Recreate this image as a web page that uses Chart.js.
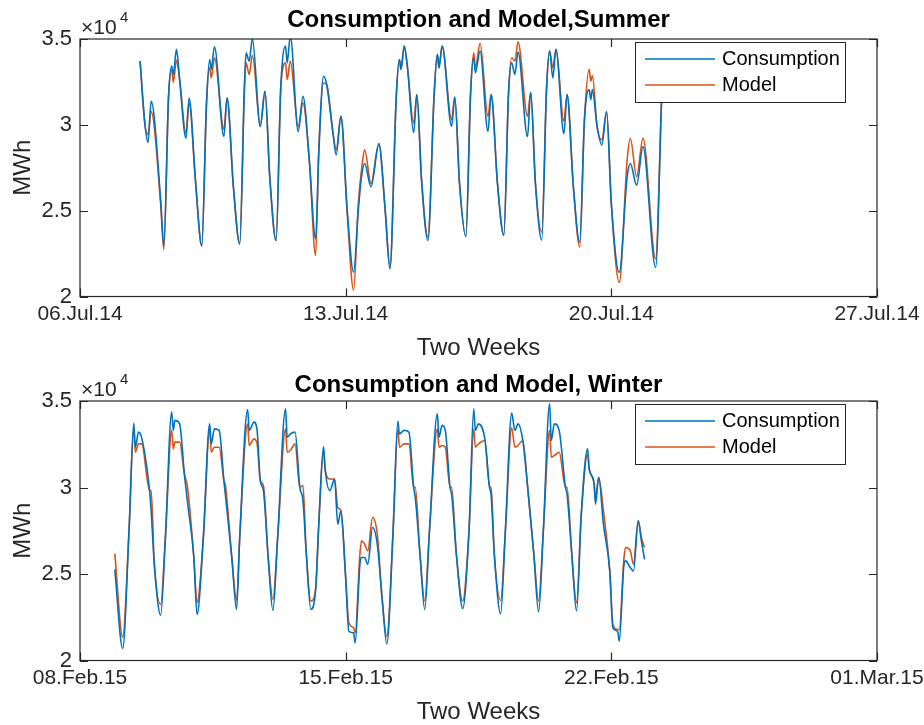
<!DOCTYPE html>
<html>
<head>
<meta charset="utf-8">
<title>Consumption and Model</title>
<script src="https://cdn.jsdelivr.net/npm/chart.js@4.4.1/dist/chart.umd.min.js"></script>
<style>
  html, body { margin: 0; padding: 0; background: #fff; }
  canvas { display: block; }
</style>
</head>
<body>
<canvas id="summerChart" width="924" height="362"></canvas>
<canvas id="winterChart" width="924" height="363"></canvas>
<script>
// hours counted from the first day on each x axis
const summerHours = [38, 41, 43, 45, 51, 53, 56, 58, 59, 61, 63, 67, 69, 73, 77, 80, 82, 83, 85, 91, 93, 97,
  101, 104, 105, 107, 109, 114, 117, 120, 124, 127, 130, 131, 133, 138, 141, 145, 149, 151, 154, 156, 160,
  162, 165, 169, 173, 176, 178, 180, 184, 189, 193, 196, 200, 202, 203, 205, 207, 211, 213, 216, 220, 224,
  226, 227, 229, 235, 237, 240, 244, 247, 249, 250, 253, 258, 260, 264, 268, 271, 273, 275, 277, 283, 285,
  288, 292, 295, 297, 299, 301, 306, 308, 312, 316, 319, 322, 323, 324, 327, 330, 333, 336, 341, 346, 348,
  352, 356, 364, 368, 369];
const summerConsumption = [33710, 30080, 28970, 31370, 25630, 22970, 31660, 33420, 32930, 34400, 32640, 29220,
  31560, 26780, 22970, 31270, 33810, 33230, 34550, 29320, 31560, 26390, 23060, 32250, 34200, 33710, 35020,
  29900, 31950, 26970, 23260, 32250, 34590, 33610, 35180, 29610, 31660, 27950, 23360, 28340, 32830, 32350,
  29510, 28250, 30490, 25020, 21410, 25040, 26970, 27750, 26390, 28890, 25020, 21600, 31660, 33810, 33230,
  34590, 33420, 29550, 31760, 26780, 23260, 31860, 34110, 33320, 34590, 29900, 31620, 26580, 23500, 31860,
  33910, 33030, 34300, 29610, 31760, 26580, 23560, 31860, 33610, 32930, 34240, 29320, 31900, 26580, 23300,
  32050, 34300, 32730, 34400, 29480, 31760, 26390, 23160, 30300, 32050, 31470, 32050, 29900, 28830, 30780,
  25410, 21410, 26970, 27750, 26490, 28730, 21700, 32050, 33900];
const summerModel = [33710, 30080, 29420, 30780, 25400, 22740, 31660, 33190, 32480, 33770, 32640, 29510,
  31270, 26780, 22910, 31270, 33320, 32730, 33910, 29750, 31560, 26390, 23060, 32250, 33610, 32930, 34050,
  29960, 31950, 26970, 23260, 32250, 33610, 32640, 33710, 29900, 31270, 27950, 22390, 28600, 32440, 32350,
  29510, 28540, 30490, 24800, 20370, 25400, 27360, 28540, 26580, 28890, 25020, 21700, 31660, 33810, 33230,
  34590, 33420, 30100, 31760, 26780, 23470, 31860, 34110, 33320, 34590, 30300, 31620, 26580, 23500, 31860,
  34200, 33320, 34750, 30490, 31760, 26580, 23560, 31860, 33910, 33710, 34830, 30490, 31900, 26580, 23750,
  32050, 34300, 33320, 34400, 30200, 31760, 26390, 22870, 30300, 33230, 32540, 32870, 29900, 29120, 30780,
  25410, 20820, 27950, 29220, 26970, 29220, 22190, 32050, 33900];

const winterHours = [22, 27, 31, 34, 35, 37, 39, 44, 45, 47, 51, 54, 58, 59, 60, 63, 66, 68, 72, 74, 78, 82,
  83, 85, 88, 91, 92, 96, 99, 101, 106, 107, 110, 112, 114, 116, 119, 122, 125, 130, 131, 133, 136, 139,
  141, 143, 146, 149, 151, 154, 155, 158, 161, 163, 165, 168, 170, 173, 174, 177, 178, 180, 182, 185, 188,
  191, 194, 198, 201, 202, 205, 208, 211, 212, 215, 218, 221, 226, 227, 229, 231, 234, 235, 238, 242, 246,
  249, 250, 252, 256, 259, 260, 262, 266, 269, 273, 275, 277, 280, 283, 287, 290, 293, 297, 298, 300, 303,
  307, 308, 311, 314, 317, 321, 322, 325, 326, 328, 331, 335, 337, 340, 341, 344, 345, 348, 350, 353, 355,
  357];
const winterConsumption = [25270, 20690, 27500, 33720, 32330, 33200, 32870, 29820, 28660, 25560, 22620, 27110,
  34360, 33300, 33880, 33680, 30780, 29140, 25950, 22660, 27110, 33680, 32520, 33390, 33300, 30400, 29530,
  25950, 22950, 27110, 34500, 33300, 33780, 33300, 30400, 29820, 25950, 22890, 27110, 34550, 32910, 33100,
  33200, 30010, 29240, 26340, 22950, 24110, 27880, 32370, 31070, 29820, 30490, 27880, 28660, 24790, 21690,
  21600, 21020, 25560, 25950, 25950, 25560, 27690, 26720, 23630, 20960, 27500, 33840, 33100, 33300, 33200,
  30010, 29430, 26140, 22950, 27500, 34260, 32910, 33590, 33300, 30010, 29620, 26140, 23010, 27500, 34550,
  33300, 33680, 32810, 30010, 29530, 26140, 22700, 27500, 34300, 33300, 33680, 32720, 30110, 26140, 22810,
  27500, 34840, 32720, 33680, 33300, 30010, 29620, 26140, 22860, 28460, 32230, 31070, 30300, 29040, 30590,
  27880, 25180, 21890, 21690, 21110, 25560, 25760, 25370, 25180, 28080, 26920, 25850];
const winterModel = [26180, 21350, 27500, 33390, 32040, 32520, 32520, 29820, 29820, 25560, 23240, 27110,
  33300, 32230, 32620, 32620, 30780, 30010, 25950, 23340, 27110, 33400, 32040, 32330, 32330, 30400, 30110,
  25950, 23470, 27110, 33680, 32430, 32810, 32520, 30400, 30110, 25950, 23530, 27110, 33390, 32040, 32140,
  32520, 30010, 30110, 26340, 23440, 24110, 27880, 32140, 31070, 30490, 30490, 28850, 28660, 24790, 22180,
  21890, 21600, 26140, 26920, 26720, 26340, 28270, 27300, 23630, 21400, 27500, 33390, 32330, 32520, 32520,
  30010, 30010, 26140, 23440, 27500, 33390, 32330, 32430, 32330, 30010, 30010, 26140, 23440, 27500, 33390,
  32330, 32520, 32720, 30010, 30010, 26140, 23470, 27500, 33450, 32330, 32430, 32720, 30110, 26140, 23440,
  27500, 33300, 31750, 31850, 32040, 30010, 30010, 26140, 23340, 28460, 31940, 31070, 30300, 29430, 30590,
  28660, 25180, 22080, 21790, 21790, 25950, 26530, 26340, 25560, 28080, 27110, 26530];

const summerTickLabels = ['06.Jul.14', '13.Jul.14', '20.Jul.14', '27.Jul.14'];
const winterTickLabels = ['08.Feb.15', '15.Feb.15', '22.Feb.15', '01.Mar.15'];
const xTickHours = [0, 168, 336, 504];
const yTickValues = [20000, 25000, 30000, 35000];
const seriesNames = ['Consumption', 'Model'];

const BLUE = '#0072BD';
const ORANGE = '#D95319';
const AXIS = '#262626';
const FONT = "'Liberation Sans', Arial, Helvetica, sans-serif";

// MATLAB-like frame: full box, inward ticks, title, exponent, labels and legend
const matlabFrame = {
  id: 'matlabFrame',
  afterDraw(chart, args, opts) {
    const { ctx, chartArea: a, scales } = chart;
    ctx.save();
    ctx.strokeStyle = AXIS;
    ctx.lineWidth = 1.2;
    ctx.strokeRect(a.left, a.top, a.right - a.left, a.bottom - a.top);

    ctx.beginPath();
    scales.x.ticks.forEach(t => {
      const px = Math.round(scales.x.getPixelForValue(t.value)) + 0.5;
      ctx.moveTo(px, a.bottom); ctx.lineTo(px, a.bottom - 8);
      ctx.moveTo(px, a.top); ctx.lineTo(px, a.top + 8);
    });
    scales.y.ticks.forEach(t => {
      const py = Math.round(scales.y.getPixelForValue(t.value)) + 0.5;
      ctx.moveTo(a.left, py); ctx.lineTo(a.left + 8, py);
      ctx.moveTo(a.right, py); ctx.lineTo(a.right - 8, py);
    });
    ctx.stroke();

    ctx.fillStyle = '#000';
    ctx.textAlign = 'center';
    ctx.textBaseline = 'middle';
    ctx.font = 'bold 24px ' + FONT;
    ctx.fillText(opts.title, (a.left + a.right) / 2, opts.titleY);

    ctx.fillStyle = AXIS;
    ctx.textAlign = 'left';
    ctx.font = '21px ' + FONT;
    ctx.fillText('\u00D710', a.left + 1, a.top - 11);
    ctx.font = '15px ' + FONT;
    ctx.fillText('4', a.left + 40, a.top - 21);

    ctx.textAlign = 'center';
    ctx.font = '24px ' + FONT;
    ctx.fillText('Two Weeks', (a.left + a.right) / 2, a.bottom + 52);
    ctx.save();
    ctx.translate(23, (a.top + a.bottom) / 2);
    ctx.rotate(-Math.PI / 2);
    ctx.fillText('MWh', 0, 0);
    ctx.restore();

    // legend
    const bx = a.right - 242, by = a.top + 3, bw = 210, bh = 60;
    ctx.fillStyle = '#fff';
    ctx.fillRect(bx, by, bw, bh);
    ctx.strokeStyle = AXIS;
    ctx.lineWidth = 1;
    ctx.strokeRect(bx + 0.5, by + 0.5, bw, bh);
    chart.data.datasets.forEach((ds, i) => {
      const ly = by + 17 + i * 26;
      ctx.strokeStyle = ds.borderColor;
      ctx.lineWidth = 1.5;
      ctx.beginPath();
      ctx.moveTo(bx + 10, ly);
      ctx.lineTo(bx + 80, ly);
      ctx.stroke();
      ctx.fillStyle = '#000';
      ctx.textAlign = 'left';
      ctx.font = '20px ' + FONT;
      ctx.fillText(ds.label, bx + 87, ly);
    });
    ctx.restore();
  }
};

function makeChart(id, hours, consumption, model, tickLabels, title, titleY, xHeight) {
  const toPoints = vals => hours.map((h, i) => ({ x: h, y: vals[i] }));
  const line = { borderWidth: 1.6, pointRadius: 0, cubicInterpolationMode: 'monotone' };
  return new Chart(document.getElementById(id), {
    type: 'line',
    data: {
      datasets: [
        { ...line, label: seriesNames[0], data: toPoints(consumption), borderColor: BLUE },
        { ...line, label: seriesNames[1], data: toPoints(model), borderColor: ORANGE }
      ]
    },
    options: {
      responsive: false,
      animation: false,
      events: [],
      layout: { padding: { left: 0, right: 47, top: 39, bottom: 0 } },
      plugins: {
        legend: { display: false },
        tooltip: { enabled: false },
        matlabFrame: { title: title, titleY: titleY }
      },
      scales: {
        x: {
          type: 'linear',
          min: 0,
          max: 504,
          afterBuildTicks: s => { s.ticks = xTickHours.map(v => ({ value: v })); },
          afterFit: s => { s.height = xHeight; s.paddingLeft = 0; s.paddingRight = 0; },
          ticks: {
            callback: v => tickLabels[xTickHours.indexOf(v)],
            color: AXIS,
            font: { family: FONT, size: 21 },
            maxRotation: 0,
            autoSkip: false,
            padding: 5
          },
          grid: { display: false, drawTicks: false },
          border: { display: false }
        },
        y: {
          min: 20000,
          max: 35000,
          afterBuildTicks: s => { s.ticks = yTickValues.map(v => ({ value: v })); },
          afterFit: s => { s.width = 80; s.paddingTop = 0; s.paddingBottom = 0; },
          ticks: {
            callback: v => String(v / 10000),
            color: AXIS,
            font: { family: FONT, size: 22 },
            padding: 8
          },
          grid: { display: false, drawTicks: false },
          border: { display: false }
        }
      }
    },
    plugins: [matlabFrame]
  });
}

makeChart('summerChart', summerHours, summerConsumption, summerModel, summerTickLabels,
  'Consumption and Model,Summer', 20, 65.5);
makeChart('winterChart', winterHours, winterConsumption, winterModel, winterTickLabels,
  'Consumption and Model, Winter', 23, 64.5);
</script>
</body>
</html>
